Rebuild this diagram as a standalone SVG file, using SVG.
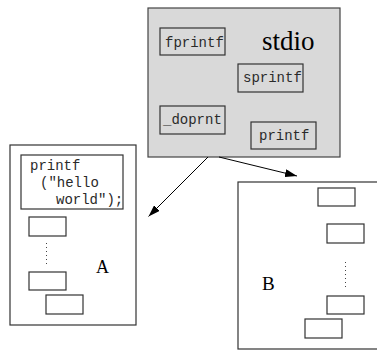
<svg xmlns="http://www.w3.org/2000/svg" width="377" height="350" viewBox="0 0 377 350">
  <defs>
    <style>
      .box { fill: #ffffff; stroke: #333333; stroke-width: 1.2; }
      .lib { fill: #d9d9d9; stroke: #444444; stroke-width: 1.2; }
      .fn  { fill: none; stroke: #333333; stroke-width: 1.2; }
      .code { font-family: "Liberation Mono", "DejaVu Sans Mono", monospace; font-size: 14px; fill: #2a2a2a; }
      .big { font-family: "Liberation Serif", "DejaVu Serif", serif; fill: #000000; }
      .dots { stroke: #444444; stroke-width: 1; stroke-dasharray: 1 3; }
      .link { stroke: #000000; stroke-width: 1; fill: none; }
    </style>
    <marker id="head" viewBox="0 0 12 8" refX="12" refY="4" markerWidth="12" markerHeight="8" markerUnits="userSpaceOnUse" orient="auto">
      <path d="M0,0 L12,4 L0,8 Z" fill="#000000"/>
    </marker>
  </defs>

  <!-- standard I/O library -->
  <g id="stdio">
    <rect class="lib" x="148" y="8" width="192" height="149"/>
    <text class="big" x="262" y="50" font-size="27">stdio</text>
    <rect class="fn" x="160" y="28" width="65" height="27"/>
    <text class="code" x="165" y="47">fprintf</text>
    <rect class="fn" x="238" y="64" width="65" height="28"/>
    <text class="code" x="243" y="82">sprintf</text>
    <rect class="fn" x="160" y="106" width="65" height="28"/>
    <text class="code" x="163" y="124">_doprnt</text>
    <rect class="fn" x="251" y="122" width="65" height="27"/>
    <text class="code" x="259" y="140">printf</text>
  </g>

  <!-- program A -->
  <g id="progA">
    <rect class="box" x="10" y="145" width="126" height="180"/>
    <rect class="fn" x="21" y="155" width="102" height="54"/>
    <text class="code" x="30" y="169.5">printf</text>
    <text class="code" x="40" y="186.5">("hello</text>
    <text class="code" x="56" y="203.5">world");</text>
    <rect class="fn" x="29" y="217" width="37" height="19"/>
    <line class="dots" x1="46.5" y1="243" x2="46.5" y2="267"/>
    <rect class="fn" x="29" y="272" width="37" height="18"/>
    <rect class="fn" x="46" y="295" width="37" height="19"/>
    <text class="big" x="96" y="273" font-size="18">A</text>
  </g>

  <!-- program B -->
  <g id="progB">
    <rect class="box" x="238" y="182" width="150" height="167"/>
    <rect class="fn" x="318" y="188" width="37" height="18"/>
    <rect class="fn" x="327" y="224" width="37" height="19"/>
    <line class="dots" x1="345.5" y1="262" x2="345.5" y2="290"/>
    <rect class="fn" x="327" y="296" width="37" height="18"/>
    <rect class="fn" x="305" y="319" width="37" height="19"/>
    <text class="big" x="262" y="290" font-size="19">B</text>
  </g>

  <!-- library linked into each program -->
  <g id="connectors">
    <line class="link" x1="208" y1="157" x2="148.5" y2="216.5" marker-end="url(#head)"/>
    <line class="link" x1="219" y1="157" x2="297" y2="176" marker-end="url(#head)"/>
  </g>
</svg>
